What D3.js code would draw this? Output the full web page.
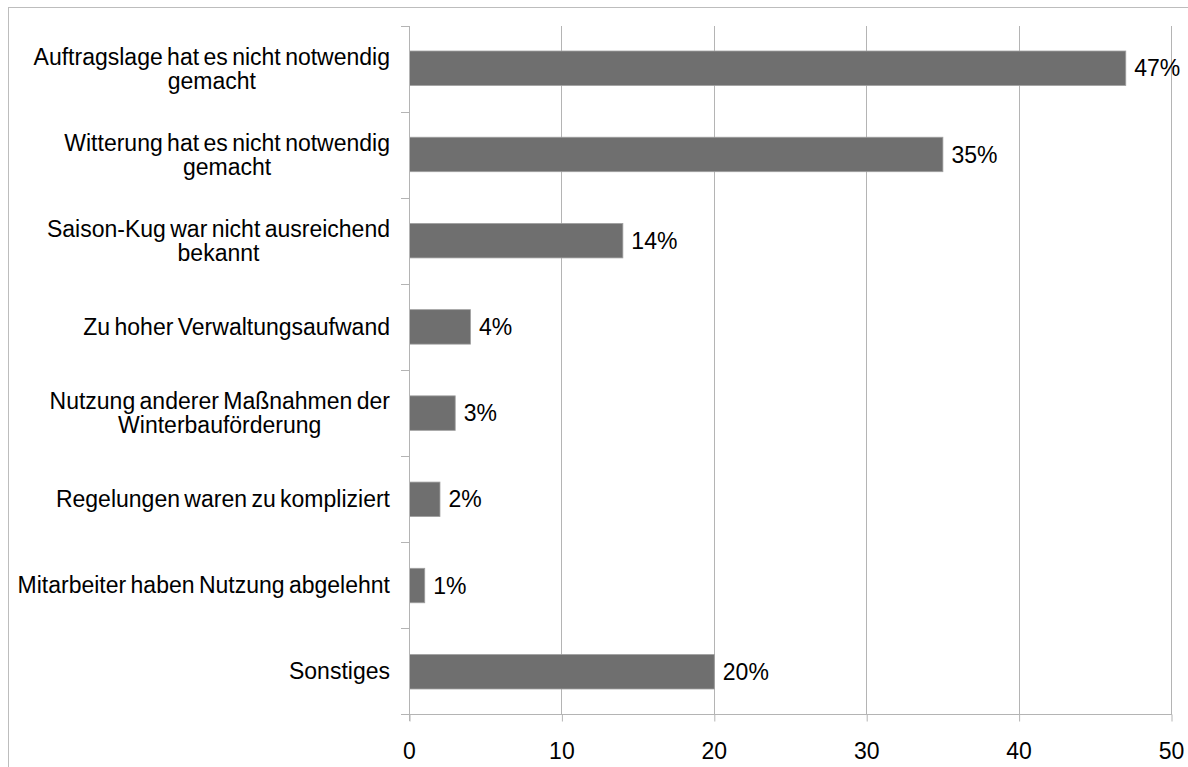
<!DOCTYPE html>
<html><head><meta charset="utf-8">
<script src="https://cdn.jsdelivr.net/npm/d3@7"></script>
<style>body{margin:0;background:#fff}svg{display:block}text{font-family:"Liberation Sans",Arial,sans-serif;fill:#000}</style>
</head><body><svg id="c" width="1188" height="767"></svg>
<script>
const categories = [
  ["Auftragslage hat es nicht notwendig","gemacht"],
  ["Witterung hat es nicht notwendig","gemacht"],
  ["Saison-Kug war nicht ausreichend","bekannt"],
  ["Zu hoher Verwaltungsaufwand"],
  ["Nutzung anderer Maßnahmen der","Winterbauförderung"],
  ["Regelungen waren zu kompliziert"],
  ["Mitarbeiter haben Nutzung abgelehnt"],
  ["Sonstiges"]
];
const values = [47, 35, 14, 4, 3, 2, 1, 20];
const valueLabels = ["47%","35%","14%","4%","3%","2%","1%","20%"];
const xTicks = [0, 10, 20, 30, 40, 50];

const svg = d3.select("#c");
const fs = 23;
const ws = "-2px";
// frame
svg.append("rect").attr("x",8.5).attr("y",7.5).attr("width",1190).attr("height",800)
  .attr("fill","none").attr("stroke","#bdbdbd").attr("stroke-width",1);

const plotTop = 26, plotBottom = 714;
const x = d3.scaleLinear().domain([0,50]).range([409,1171]);
const y = d3.scaleBand().domain(d3.range(categories.length)).range([plotTop,plotBottom]).paddingInner(0.6).paddingOuter(0.29);
const band = d3.scaleBand().domain(d3.range(categories.length)).range([plotTop,plotBottom]);

// gridlines
svg.append("g").selectAll("line").data(xTicks.slice(1)).join("line")
  .attr("x1",d=>Math.round(x(d))+0.5).attr("x2",d=>Math.round(x(d))+0.5)
  .attr("y1",plotTop).attr("y2",plotBottom+1).attr("stroke","#b4b4b4");

// bars
svg.append("g").selectAll("rect").data(values).join("rect")
  .attr("x",x(0)+0.5).attr("y",(d,i)=>y(i)).attr("width",d=>x(d)-x(0)).attr("height",y.bandwidth())
  .attr("fill","#6f6f6f").attr("stroke","#a0a0a0").attr("stroke-width",0.8);

// x axis
const xa = svg.append("g").attr("transform",`translate(0,${plotBottom+0.5})`)
  .call(d3.axisBottom(x).tickValues(xTicks).tickSize(7).tickPadding(21));
xa.select(".domain").attr("stroke","#b4b4b4").attr("d","M401,0H1171.5");
xa.selectAll(".tick line").attr("stroke","#b4b4b4").attr("transform","translate(0.5,0)");
xa.selectAll(".tick text").attr("font-size",fs).attr("font-family","Liberation Sans, Arial, sans-serif").attr("fill","#000");

// y axis line and ticks
svg.append("line").attr("x1",409.5).attr("x2",409.5).attr("y1",plotTop).attr("y2",plotBottom+7).attr("stroke","#b4b4b4");
svg.append("g").selectAll("line").data(d3.range(categories.length)).join("line")
  .attr("x1",401).attr("x2",409).attr("y1",d=>Math.round(plotTop+d*band.step())+0.5).attr("y2",d=>Math.round(plotTop+d*band.step())+0.5)
  .attr("stroke","#b4b4b4");

// category labels
const lh = 23.5;
categories.forEach((lines,i)=>{
  const cy = band(i)+band.bandwidth()/2;
  const g = svg.append("g");
  const widths = lines.map(l=>{const t=g.append("text").attr("font-size",fs).attr("word-spacing",ws).text(l);const w=t.node().getComputedTextLength();t.remove();return w;});
  const maxW = d3.max(widths);
  const right = 390, cx = right - maxW/2;
  lines.forEach((l,j)=>{
    g.append("text").attr("font-size",fs).attr("word-spacing",ws).attr("text-anchor","middle")
      .attr("x",cx).attr("y",cy + (j-(lines.length-1)/2)*lh).attr("dy","0.35em").text(l);
  });
});

// value labels
svg.append("g").selectAll("text").data(values).join("text")
  .attr("x",d=>x(d)+9).attr("y",(d,i)=>y(i)+y.bandwidth()/2).attr("dy","0.35em")
  .attr("font-size",fs).text((d,i)=>valueLabels[i]);
</script></body></html>
